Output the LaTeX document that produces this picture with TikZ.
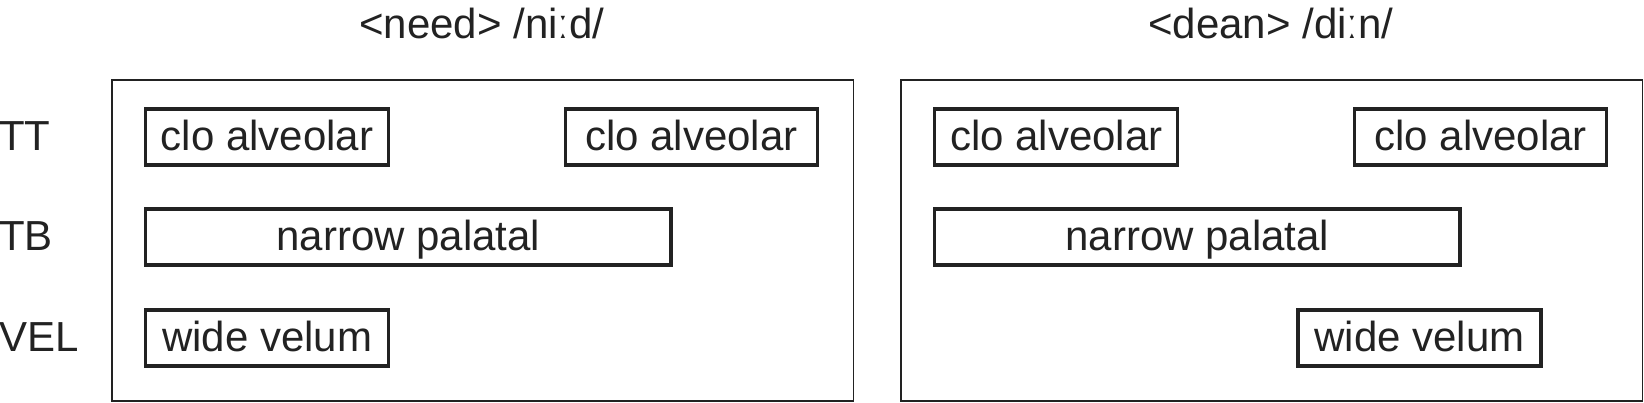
\documentclass[tikz,border=0pt]{standalone}
\usepackage{fontspec}
\setmainfont{Liberation Sans}
\definecolor{ink}{HTML}{222222}
\tikzset{
  txt/.style={font=\fontsize{21}{25}\selectfont, text=ink, inner sep=0pt, outer sep=0pt},
  lbl/.style={txt, text height=13pt, text depth=0pt},
  panel/.style={draw=ink, line width=0.7pt, inner sep=0pt, outer sep=0pt, minimum height=160.4pt, minimum width=370.75pt},
  gest/.style={lbl, draw=ink, line width=1.65pt, minimum height=28pt},
  small/.style={gest, minimum width=121.5pt},
  smallb/.style={gest, minimum width=126pt},
  wide/.style={gest, minimum width=262.6pt},
}
\begin{document}
\begin{tikzpicture}[x=0.5pt,y=-0.5pt]
\useasboundingbox (0,0) rectangle (1644,402);
% titles
\node[txt, anchor=base] (t1) at (482,38) {<need> /niːd/};
\node[txt, anchor=base] (t2) at (1271,38) {<dean> /diːn/};
% row labels
\node[lbl, anchor=west] (tt) at (-1,137) {TT};
\node[lbl, anchor=west] (tb) at (-1,237) {TB};
\node[lbl, anchor=west] (vel) at (-1,338) {VEL};
% panels
\node[panel] (p1) at (482.75,240.4) {};
\node[panel] (p2) at (1271.75,240.4) {};
% left panel gestures
\node[small] (l1) at (267,137) {clo alveolar};
\node[smallb] (l2) at (691.3,137) {clo alveolar};
\node[wide] (l3) at (408.3,237) {narrow palatal};
\node[small] (l4) at (267.3,338) {wide velum};
% right panel gestures
\node[small] (r1) at (1056.3,137) {clo alveolar};
\node[smallb] (r2) at (1480.8,137) {clo alveolar};
\node[wide] (r3) at (1197.3,237) {narrow palatal};
\node[small] (r4) at (1419.5,338) {wide velum};
\end{tikzpicture}
\end{document}
